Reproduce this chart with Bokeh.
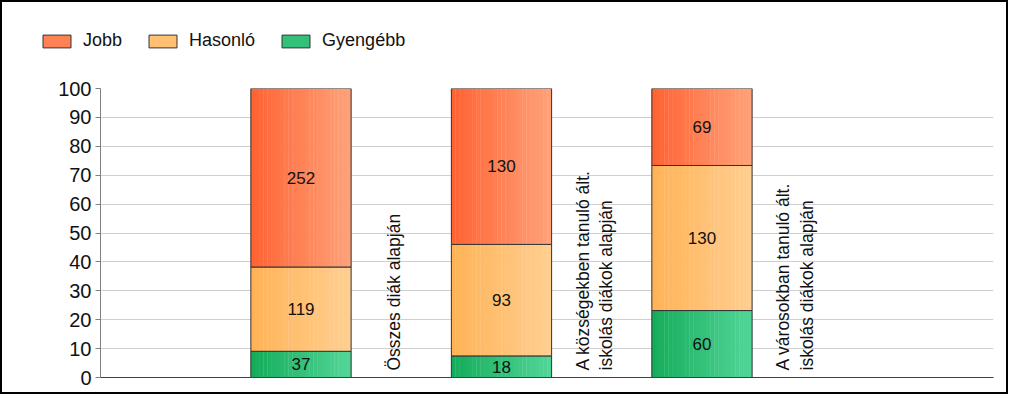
import math
from bokeh.plotting import figure
from bokeh.layouts import column
from bokeh.models import Range1d, FixedTicker, Legend, LegendItem
from bokeh.core.properties import value
from bokeh.embed import file_html
from bokeh.resources import INLINE

# ---- data ----
categories = ["Összes diák alapján",
              "A községekben tanuló ált.\niskolás diákok alapján",
              "A városokban tanuló ált.\niskolás diákok alapján"]
series_names = ["Jobb", "Hasonló", "Gyengébb"]
jobb = [252, 130, 69]
hasonlo = [119, 93, 130]
gyengebb = [37, 18, 60]
y_ticks = [0, 10, 20, 30, 40, 50, 60, 70, 80, 90, 100]

# ---- style ----
FONT = "Liberation Sans"
grad = {
    "Gyengébb": ((20, 172, 90), (82, 214, 152)),
    "Hasonló": ((255, 178, 85), (255, 207, 146)),
    "Jobb": ((255, 98, 50), (255, 162, 122)),
}
OUT = "#333333"
N_SLICES = 24
BAR_W = 0.5
W = 1004
H_LEG = 56
H_MAIN = 334

def hexc(c):
    return "#%02x%02x%02x" % tuple(int(round(v)) for v in c)

def mix(a, b, t):
    return tuple(a[i] + (b[i] - a[i]) * t for i in range(3))

# ---------- main chart ----------
pm = figure(width=W, height=H_MAIN, output_backend="svg", toolbar_location=None,
            x_range=Range1d(-1, 3.454), y_range=Range1d(0, 100),
            min_border_left=98, min_border_right=13, min_border_top=30, min_border_bottom=15)
pm.outline_line_color = None
pm.background_fill_color = "white"
pm.border_fill_color = "white"

xs = list(range(len(categories)))
totals = [j + h + g for j, h, g in zip(jobb, hasonlo, gyengebb)]
stack_order = [("Gyengébb", gyengebb), ("Hasonló", hasonlo), ("Jobb", jobb)]

bottoms = [0.0] * len(xs)
for name, vals in stack_order:
    pct = [v / t * 100 for v, t in zip(vals, totals)]
    tops = [b + q for b, q in zip(bottoms, pct)]
    c0, c1 = grad[name]
    # gradient slices
    sx, sb, st, sc = [], [], [], []
    for i in range(N_SLICES):
        t = (i + 0.5) / N_SLICES
        for k, x in enumerate(xs):
            sx.append(x - BAR_W / 2 + t * BAR_W)
            sb.append(bottoms[k])
            st.append(tops[k])
            sc.append(hexc(mix(c0, c1, t)))
    pm.vbar(x=sx, width=BAR_W / N_SLICES * 1.08, bottom=sb, top=st, fill_color=sc, line_color=None)
    # outline
    pm.vbar(x=xs, width=BAR_W, bottom=bottoms, top=tops, fill_alpha=0, line_color=OUT, line_width=1)
    # value labels
    pm.text(x=xs, y=[(b + t) / 2 for b, t in zip(bottoms, tops)], text=[str(v) for v in vals],
            text_align="center", text_baseline="middle", text_font=value(FONT),
            text_font_size="17px", text_color="#111111")
    bottoms = tops

# category labels, rotated, right of each bar
pm.text(x=xs, y=[0] * len(xs), text=categories, angle=math.pi / 2,
        text_align="left", text_baseline="middle", x_offset=93, y_offset=-7,
        text_font=value(FONT), text_font_size="17.5px", text_color="#111111",
        text_line_height=1.18)

# axes
pm.yaxis.ticker = FixedTicker(ticks=y_ticks)
pm.yaxis.major_label_text_font = FONT
pm.yaxis.major_label_text_font_size = "20px"
pm.yaxis.major_label_text_color = "#111111"
pm.yaxis.major_tick_out = 5
pm.yaxis.major_tick_in = 0
pm.yaxis.minor_tick_line_color = None
pm.yaxis.axis_line_color = "#808080"
pm.yaxis.major_tick_line_color = "#808080"
pm.yaxis.major_label_standoff = 4

pm.xaxis.ticker = FixedTicker(ticks=[])
pm.xaxis.axis_line_color = "#404040"
pm.xaxis.major_tick_line_color = None
pm.xaxis.minor_tick_line_color = None

pm.xgrid.grid_line_color = None
pm.ygrid.ticker = FixedTicker(ticks=y_ticks)
pm.ygrid.grid_line_color = "#cfcfcf"
pm.ygrid.grid_line_width = 1

# ---------- legend strip ----------
pl = figure(width=W, height=H_LEG, output_backend="svg", toolbar_location=None,
            x_range=Range1d(0, 1), y_range=Range1d(0, 1),
            x_axis_location=None, y_axis_location=None,
            min_border_left=0, min_border_right=0, min_border_top=0, min_border_bottom=0)
leg_x = 37
try:
    pl.frame_align = False
except Exception:
    leg_x = 37 - 98
pl.grid.visible = False
pl.outline_line_color = None
pl.border_fill_color = "white"
pl.background_fill_color = "white"
items = []
for name in series_names:
    c0, c1 = grad[name]
    # a glyph with no visible position: only its legend swatch is shown
    r = pl.vbar(x=[float("nan")], top=[float("nan")], width=BAR_W,
                fill_color=hexc(mix(c0, c1, 0.5)), line_color=OUT, line_width=1)
    items.append(LegendItem(label=name, renderers=[r]))

legend = Legend(items=items, orientation="horizontal", location=(leg_x, 7),
                glyph_width=35, glyph_height=16, label_height=16, label_standoff=9,
                spacing=23, padding=0, margin=0, border_line_color=None,
                background_fill_alpha=0, label_text_font=FONT, label_text_font_size="18px",
                label_text_color="#111111")
pl.add_layout(legend, "center")

p = column(pl, pm, spacing=0)
p.styles = {"border": "2px solid #000000"}

open("out.html", "w").write(file_html(p, INLINE))
